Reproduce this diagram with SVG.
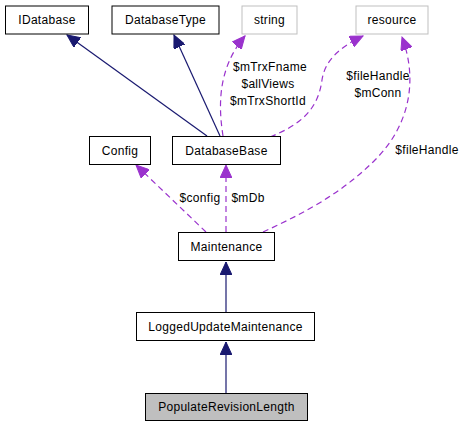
<svg xmlns="http://www.w3.org/2000/svg" width="467" height="427" viewBox="0 0 467 427">
<style>
text{font-family:"Liberation Sans",Arial,sans-serif;font-size:12px;letter-spacing:0.3px;text-anchor:middle;fill:#000}
.box{fill:#fff;stroke:#000;stroke-width:1}
.ext{fill:#fff;stroke:#bfbfbf;stroke-width:1}
.cur{fill:#bfbfbf;stroke:#000;stroke-width:1}
.inh{fill:none;stroke:#191970;stroke-width:1.2;marker-end:url(#ah)}
.use{fill:none;stroke:#9a32cd;stroke-width:1.2;stroke-dasharray:6,4;marker-end:url(#au)}
</style>
<defs>
<marker id="ah" markerUnits="userSpaceOnUse" markerWidth="14" markerHeight="12" viewBox="0 0 14 12" refX="13" refY="6" orient="auto"><path d="M0,0 L13,6 L0,12 Z" fill="#191970" stroke="#191970"/></marker>
<marker id="au" markerUnits="userSpaceOnUse" markerWidth="14" markerHeight="12" viewBox="0 0 14 12" refX="13" refY="6" orient="auto"><path d="M0,0 L13,6 L0,12 Z" fill="#9a32cd" stroke="#9a32cd"/></marker>
</defs>
<g id="connectors">
<path class="inh" d="M207,136 L67,35"/>
<path class="inh" d="M220,136 L174,35"/>
<path class="use" d="M223,136 C219,110 216,70 245,36"/>
<path class="use" d="M270,137 C300,125 318,110 322,80 C325,60 340,47 363,36"/>
<path class="use" d="M263,232 C300,215 340,195 375,160 C410,125 418,80 402,37"/>
<path class="use" d="M206,232 L136,165"/>
<path class="use" d="M226,232 L226,165"/>
<path class="inh" d="M226,312 L226,262"/>
<path class="inh" d="M226,393 L226,342"/>
</g>
<g id="labels">
<text x="270" y="71">$mTrxFname</text>
<text x="268" y="88">$allViews</text>
<text x="268" y="105">$mTrxShortId</text>
<text x="378" y="80">$fileHandle</text>
<text x="378" y="97">$mConn</text>
<text x="427" y="154">$fileHandle</text>
<text x="200" y="202">$config</text>
<text x="248" y="202">$mDb</text>
</g>
<g id="IDatabase"><rect class="box" x="5.5" y="6" width="83" height="28"/><text x="47" y="24">IDatabase</text></g>
<g id="DatabaseType"><rect class="box" x="112" y="6" width="107" height="28"/><text x="165.5" y="24">DatabaseType</text></g>
<g id="string"><rect class="ext" x="242" y="6" width="55" height="28"/><text x="269.5" y="24">string</text></g>
<g id="resource"><rect class="ext" x="356" y="6" width="72" height="28"/><text x="392" y="24">resource</text></g>
<g id="Config"><rect class="box" x="89.5" y="136.5" width="61" height="28"/><text x="120" y="154.5">Config</text></g>
<g id="DatabaseBase"><rect class="box" x="172.5" y="136.5" width="108" height="28"/><text x="226.5" y="154.5">DatabaseBase</text></g>
<g id="Maintenance"><rect class="box" x="178.5" y="232.5" width="96" height="28"/><text x="226.5" y="250.5">Maintenance</text></g>
<g id="LoggedUpdateMaintenance"><rect class="box" x="136.5" y="312.5" width="178" height="28"/><text x="225.5" y="330.5">LoggedUpdateMaintenance</text></g>
<g id="PopulateRevisionLength"><rect class="cur" x="145.5" y="393.5" width="162" height="27"/><text x="226.5" y="411">PopulateRevisionLength</text></g>
</svg>
